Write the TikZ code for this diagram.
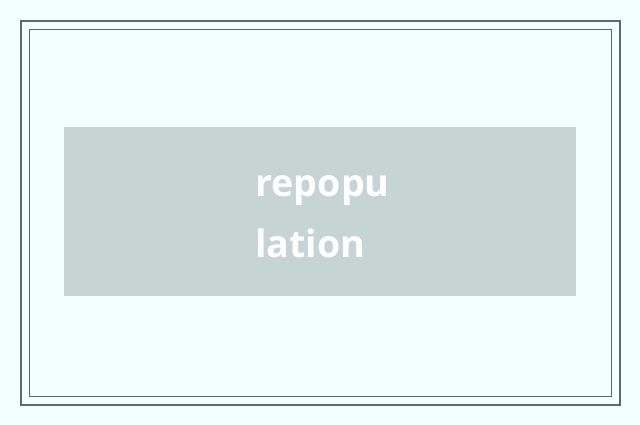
\documentclass[tikz,border=0pt]{standalone}
\usepackage{fontspec}
\setmainfont{Open Sans}
\definecolor{bgcyan}{HTML}{F2FFFF}
\definecolor{frame}{HTML}{5A6A6A}
\definecolor{boxgray}{HTML}{C7D4D4}
\begin{document}
\begin{tikzpicture}[x=1pt,y=-1pt]
        \fill[bgcyan] (0,0) rectangle (640,425);
        \useasboundingbox (0,0) rectangle (640,425);

        \draw[frame,line width=2pt] (21,21) rectangle (620,405);
        \draw[frame,line width=1pt] (29.5,29.5) rectangle (611,396.5);

        \fill[boxgray] (64,127) rectangle (576,296);
        \node[inner sep=0pt,align=left,text=white,font=\bfseries\fontsize{37.6}{61}\selectfont] (label) at (322.5,217) {repopu\\lation};

    \end{tikzpicture}
\end{document}
